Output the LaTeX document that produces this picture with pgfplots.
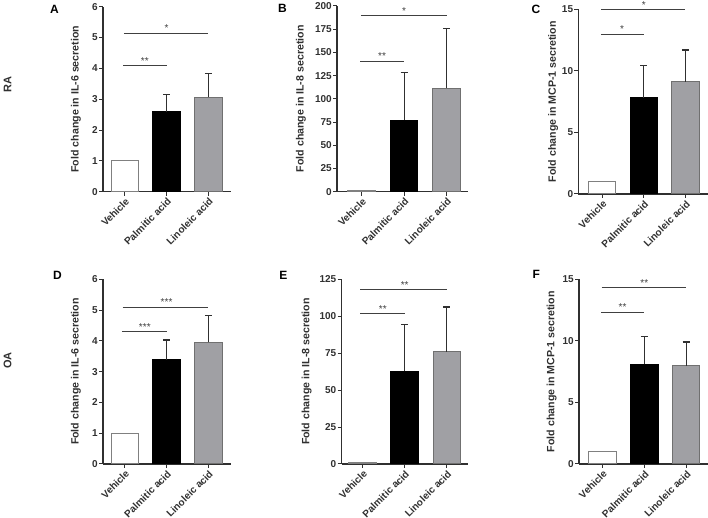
\documentclass[border=0pt]{standalone}
\usepackage{fontspec}
\setmainfont{Liberation Sans}
\usepackage{pgfplots}
\pgfplotsset{compat=1.18}
\definecolor{barg}{HTML}{A0A0A4}
\definecolor{barge}{HTML}{707070}
\definecolor{vege}{HTML}{808080}
\definecolor{axg}{HTML}{303030}
\definecolor{sigg}{HTML}{404040}
\pgfplotsset{
  panel/.style={
    scale only axis,
    axis lines=left,
    axis line style={-, axg, line width=1.1pt},
    ymin=0,
    xtick={0,1,2},
    xticklabels={Vehicle, Palmitic acid, Linoleic acid},
    xticklabel style={rotate=45, anchor=north east, font=\fontsize{10}{11}\selectfont\bfseries, inner sep=1pt, text=axg},
    yticklabel style={font=\fontsize{10}{11}\selectfont\bfseries, inner sep=1pt, text=axg},
    /pgf/number format/assume math mode=true,
    tick style={axg, line width=1pt},
    tick align=outside,
    major tick length=4pt,
    ylabel style={font=\fontsize{10.6}{12}\selectfont\bfseries, anchor=center, text=axg},
    clip=false,
  },
  vbar/.style={ybar, bar width=27.5pt, bar shift=0pt, fill=white, draw=vege, line width=1pt},
  pbar/.style={ybar, bar width=27.5pt, bar shift=0pt, fill=black, draw=black, line width=1pt,
    error bars/.cd, y dir=plus, y explicit,
    error bar style={axg, line width=1.2pt},
    error mark options={rotate=90, mark size=3.5pt, line width=1.2pt, axg}},
  lbar/.style={ybar, bar width=27.5pt, bar shift=0pt, fill=barg, draw=barge, line width=1pt,
    error bars/.cd, y dir=plus, y explicit,
    error bar style={axg, line width=1.2pt},
    error mark options={rotate=90, mark size=3.5pt, line width=1.2pt, axg}},
  sig/.style={sharp plot, mark=none, sigg, line width=0.8pt, forget plot},
}
\newcommand{\stars}[3]{\node[anchor=base, inner sep=0pt, text=sigg, font=\fontsize{10}{11}\selectfont] at (axis cs:#1,#2) [yshift=1.2pt] {#3};}
\begin{document}
\begin{tikzpicture}
\useasboundingbox (0pt,0pt) rectangle (708pt,518pt);
% Row labels
\node[rotate=90, font=\fontsize{11}{12}\selectfont\bfseries, text=axg, inner sep=0pt] at (7.5pt,433pt) {RA};
\node[rotate=90, font=\fontsize{11}{12}\selectfont\bfseries, text=axg, inner sep=0pt] at (7.5pt,157.5pt) {OA};
% Panel letters
\node[font=\fontsize{12}{13}\selectfont\bfseries, inner sep=0pt] at (54.5pt,508.5pt) {A};
\node[font=\fontsize{12}{13}\selectfont\bfseries, inner sep=0pt] at (282.5pt,509.7pt) {B};
\node[font=\fontsize{12}{13}\selectfont\bfseries, inner sep=0pt] at (536pt,509pt) {C};
\node[font=\fontsize{12}{13}\selectfont\bfseries, inner sep=0pt] at (57.5pt,243pt) {D};
\node[font=\fontsize{12}{13}\selectfont\bfseries, inner sep=0pt] at (283.3pt,243pt) {E};
\node[font=\fontsize{12}{13}\selectfont\bfseries, inner sep=0pt] at (536.3pt,243.5pt) {F};

% ---------- A ----------
\begin{axis}[panel, at={(103pt,326.3pt)}, anchor=south west, width=128pt, height=185pt,
  xmin=-0.52, xmax=2.54, ymax=6, ytick={0,1,...,6},
  ylabel={Fold change in IL-6 secretion},
  ylabel style={at={(axis description cs:-0.211,0.5)}}]
\addplot[vbar] coordinates {(0,1)};
\addplot[pbar] coordinates {(1,2.60) +- (0,0.55)};
\addplot[lbar] coordinates {(2,3.06) +- (0,0.78)};
\addplot[sig] coordinates {(-0.03,4.10) (1,4.10)};
\addplot[sig] coordinates {(-0.02,5.15) (2,5.15)};
\stars{0.48}{4.10}{**}
\stars{1}{5.15}{*}
\end{axis}

% ---------- B ----------
\begin{axis}[panel, at={(337pt,326.3pt)}, anchor=south west, width=131.3pt, height=185.7pt,
  xmin=-0.58, xmax=2.51, ymax=200, ytick={0,25,...,200},
  ylabel={Fold change in IL-8 secretion},
  ylabel style={at={(axis description cs:-0.274,0.5)}}]
\addplot[vbar] coordinates {(0,1)};
\addplot[pbar] coordinates {(1,77.2) +- (0,50.8)};
\addplot[lbar] coordinates {(2,111.5) +- (0,64.5)};
\addplot[sig] coordinates {(-0.03,140.8) (1,140.8)};
\addplot[sig] coordinates {(-0.02,190) (2,190)};
\stars{0.48}{140.8}{**}
\stars{1}{190}{*}
\end{axis}

% ---------- C ----------
\begin{axis}[panel, at={(578.3pt,324pt)}, anchor=south west, width=129.7pt, height=184.7pt,
  xmin=-0.57, xmax=2.54, ymax=15, ytick={0,5,10,15},
  ylabel={Fold change in MCP-1 secretion},
  ylabel style={at={(axis description cs:-0.193,0.5)}}]
\addplot[vbar] coordinates {(0,1)};
\addplot[pbar] coordinates {(1,7.8) +- (0,2.62)};
\addplot[lbar] coordinates {(2,9.1) +- (0,2.6)};
\addplot[sig] coordinates {(-0.03,13.0) (1,13.0)};
\addplot[sig] coordinates {(-0.02,15.0) (2,15.0)};
\stars{0.48}{13.0}{*}
\stars{1}{15.0}{*}
\end{axis}

% ---------- D ----------
\begin{axis}[panel, at={(103pt,54pt)}, anchor=south west, width=128pt, height=184.7pt,
  xmin=-0.52, xmax=2.54, ymax=6, ytick={0,1,...,6},
  ylabel={Fold change in IL-6 secretion},
  ylabel style={at={(axis description cs:-0.211,0.5)}}]
\addplot[vbar] coordinates {(0,1)};
\addplot[pbar] coordinates {(1,3.38) +- (0,0.65)};
\addplot[lbar] coordinates {(2,3.95) +- (0,0.88)};
\addplot[sig] coordinates {(-0.07,4.31) (1,4.31)};
\addplot[sig] coordinates {(-0.05,5.10) (2,5.10)};
\stars{0.48}{4.31}{***}
\stars{1}{5.10}{***}
\end{axis}

% ---------- E ----------
\begin{axis}[panel, at={(341.5pt,54pt)}, anchor=south west, width=126.8pt, height=184.7pt,
  xmin=-0.5, xmax=2.51, ymax=125, ytick={0,25,...,125},
  ylabel={Fold change in IL-8 secretion},
  ylabel style={at={(axis description cs:-0.274,0.5)}}]
\addplot[vbar] coordinates {(0,1)};
\addplot[pbar] coordinates {(1,62.7) +- (0,31.8)};
\addplot[lbar] coordinates {(2,75.8) +- (0,30.5)};
\addplot[sig] coordinates {(-0.05,102) (1,102)};
\addplot[sig] coordinates {(-0.05,118.2) (2,118.2)};
\stars{0.48}{102}{**}
\stars{1}{118.2}{**}
\end{axis}

% ---------- F ----------
\begin{axis}[panel, at={(579pt,54pt)}, anchor=south west, width=129pt, height=184.7pt,
  xmin=-0.56, xmax=2.52, ymax=15, ytick={0,5,10,15},
  ylabel={Fold change in MCP-1 secretion},
  ylabel style={at={(axis description cs:-0.212,0.5)}}]
\addplot[vbar] coordinates {(0,1)};
\addplot[pbar] coordinates {(1,8.1) +- (0,2.25)};
\addplot[lbar] coordinates {(2,7.97) +- (0,1.93)};
\addplot[sig] coordinates {(-0.03,12.33) (1,12.33)};
\addplot[sig] coordinates {(-0.02,14.34) (2,14.34)};
\stars{0.48}{12.33}{**}
\stars{1}{14.34}{**}
\end{axis}
\end{tikzpicture}
\end{document}
